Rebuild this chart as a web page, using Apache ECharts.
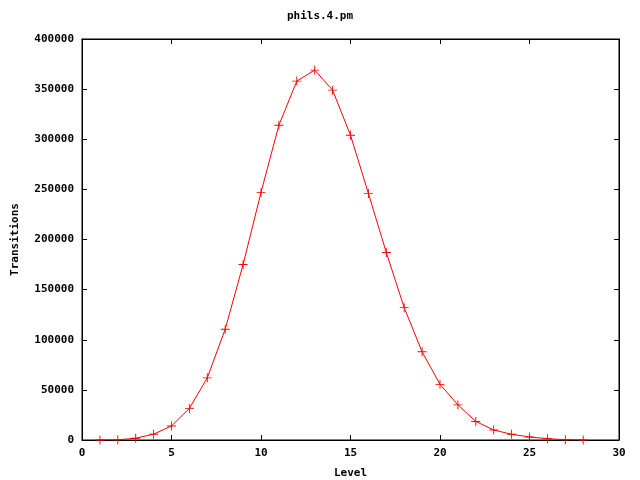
<!DOCTYPE html>
<html>
<head>
<meta charset="utf-8">
<script src="https://cdn.jsdelivr.net/npm/echarts@6/dist/echarts.min.js"></script>
<style>html,body{margin:0;padding:0;background:#fff;}#c{width:640px;height:480px;}</style>
</head>
<body>
<div id="c"></div>
<script>
var levels = [1,2,3,4,5,6,7,8,9,10,11,12,13,14,15,16,17,18,19,20,21,22,23,24,25,26,27,28];
var transitions = [10,150,1800,5800,14000,31500,62000,110500,175000,247000,314000,358000,369000,349000,304000,246000,187000,132000,88000,55500,35000,18500,10000,5700,3000,1300,300,60];
var title = 'phils.4.pm';
var xName = 'Level';
var yName = 'Transitions';

var font = '"DejaVu Sans Mono", "Liberation Mono", monospace';
var pts = levels.map(function(l,i){return [l, transitions[i]];});
var chart = echarts.init(document.getElementById('c'), null, {renderer:'canvas'});
function common(extra){
  return Object.assign({
    axisLine:{show:true,onZero:false,lineStyle:{color:'#000',width:1}},
    axisTick:{show:true,inside:true,length:5,lineStyle:{color:'#000',width:1}},
    splitLine:{show:false}
  }, extra);
}
var lbl = {fontFamily:font,fontSize:11,fontWeight:'bold',color:'#000',formatter:function(v){return String(v);}};
chart.setOption({
  animation:false,
  backgroundColor:'#fff',
  title:{text:title,left:'center',top:6,textStyle:{fontFamily:font,fontSize:11,fontWeight:'bold',color:'#000'}},
  grid:{left:82,right:21,top:39,bottom:40,containLabel:false,outerBoundsMode:'none',show:true,borderColor:'#000',borderWidth:1,backgroundColor:'transparent'},
  xAxis:[
    common({type:'value',min:0,max:30,interval:5,position:'bottom',name:xName,nameLocation:'middle',nameGap:28,
      nameTextStyle:{fontFamily:font,fontSize:11,fontWeight:'bold',color:'#000'},
      axisLabel:Object.assign({margin:8},lbl)}),
    common({type:'value',min:0,max:30,interval:5,position:'top',axisLabel:{show:false}})
  ],
  yAxis:[
    common({type:'value',min:0,max:400000,interval:50000,position:'left',name:yName,nameLocation:'middle',nameGap:61,
      nameTextStyle:{fontFamily:font,fontSize:11,fontWeight:'bold',color:'#000'},
      axisLabel:Object.assign({margin:8},lbl)}),
    common({type:'value',min:0,max:400000,interval:50000,position:'right',axisLabel:{show:false}})
  ],
  series:[{
    type:'line',
    data:pts,
    xAxisIndex:0,yAxisIndex:0,
    symbol:'path://M4.5,0H5.5V10H4.5ZM0,4.5H10V5.5H0Z',
    symbolSize:9,
    showSymbol:true,
    lineStyle:{color:'#ff0000',width:1},
    itemStyle:{color:'#ff0000'},
    z:1
  }]
});
</script>
</body>
</html>
